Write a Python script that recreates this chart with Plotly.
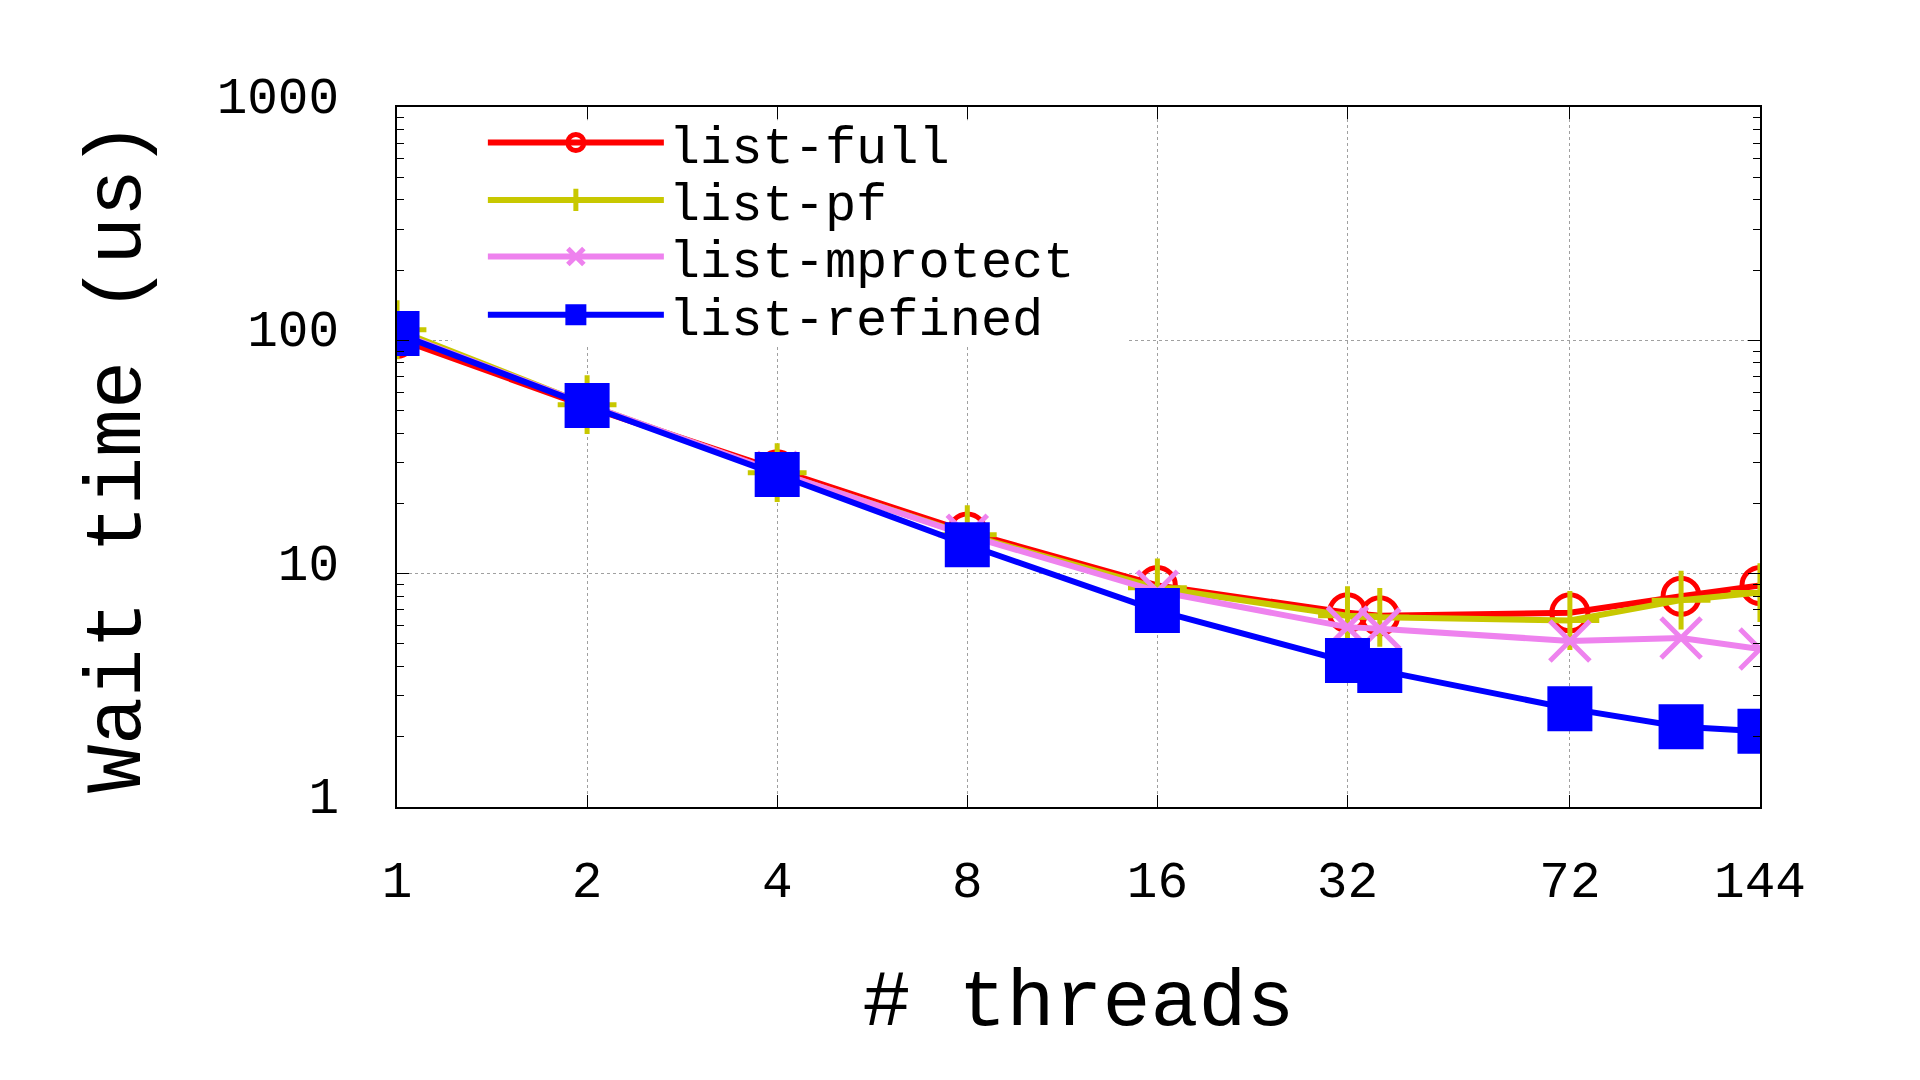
import plotly.graph_objects as go

# wait time vs. thread count
threads = [1, 2, 4, 8, 16, 32, 36, 72, 108, 144]
list_full = [102, 52, 27.9, 15.1, 8.9, 6.8, 6.6, 6.8, 8.0, 8.9]
list_pf = [111, 53, 27.1, 14.7, 8.7, 6.6, 6.5, 6.3, 7.7, 8.3]
list_mprotect = [108, 53, 27.2, 14.6, 8.4, 5.9, 5.8, 5.15, 5.3, 4.75]
list_refined = [107, 52.6, 26.6, 13.3, 6.95, 4.25, 3.85, 2.64, 2.21, 2.11]

x_ticks = [1, 2, 4, 8, 16, 32, 72, 144]
y_ticks = [1, 10, 100, 1000]
y_minor = [m * d for d in (1, 10, 100) for m in range(2, 10)]

FONT = "Liberation Mono, DejaVu Sans Mono, monospace"

series = [
    ("list-full", list_full, "#ff0000", "circle-open", 36),
    ("list-pf", list_pf, "#c8c800", "cross-thin-open", 42),
    ("list-mprotect", list_mprotect, "#ee82ee", "x-thin-open", 40),
    ("list-refined", list_refined, "#0000ff", "square", 40),
]

# one legend per entry so the rows can sit as tight as gnuplot's key
key_rows = [0.949, 0.867, 0.786, 0.703]
legend_names = ["legend", "legend2", "legend3", "legend4"]

fig = go.Figure()
for (name, values, color, symbol, size), lg in zip(series, legend_names):
    fig.add_trace(go.Scatter(
        x=threads, y=values, name=name, mode="lines+markers", legend=lg,
        line=dict(color=color, width=6),
        marker=dict(symbol=symbol, size=size, color=color,
                    line=dict(color=color, width=5)),
    ))

axis_common = dict(
    type="log", showline=True, linecolor="black", linewidth=1.5,
    mirror="ticks", ticks="inside", tickcolor="black", ticklen=12,
    showgrid=True, gridcolor="#a0a0a0", griddash="dot", gridwidth=1,
    zeroline=False, tickfont=dict(family=FONT, size=51, color="black"),
)

fig.update_xaxes(
    **axis_common,
    range=[0, 2.1584], tickmode="array", tickvals=x_ticks,
    ticktext=[str(t) for t in x_ticks], ticklabelstandoff=27,
    title=dict(text="# threads", font=dict(family=FONT, size=80, color="black"),
               standoff=58),
)
fig.update_yaxes(
    **axis_common,
    range=[0, 3], tickmode="array", tickvals=y_ticks,
    ticktext=[str(t) for t in y_ticks], ticklabelstandoff=46,
    ticklabelshift=-12,
    minor=dict(tickmode="array", tickvals=y_minor, ticks="inside",
               ticklen=7, tickcolor="black", showgrid=False),
    title=dict(text="Wait time (us)", font=dict(family=FONT, size=80, color="black"),
               standoff=50),
)

# white key box like gnuplot's: hides the grid behind the key
fig.add_shape(type="rect", xref="paper", yref="paper", layer="above",
              x0=0.04, x1=0.535, y0=0.657, y1=0.981,
              fillcolor="white", line=dict(width=0))

legends = {}
for lg, y in zip(legend_names, key_rows):
    legends[lg] = dict(x=0.063, y=y, xanchor="left", yanchor="middle",
                       bgcolor="rgba(0,0,0,0)", borderwidth=0,
                       font=dict(family=FONT, size=52, color="black"),
                       itemwidth=176)

fig.update_layout(
    width=1920, height=1080,
    margin=dict(l=389, r=168, t=99, b=281),
    plot_bgcolor="white", paper_bgcolor="white",
    showlegend=True,
    **legends,
)

fig.write_html("out.html")
